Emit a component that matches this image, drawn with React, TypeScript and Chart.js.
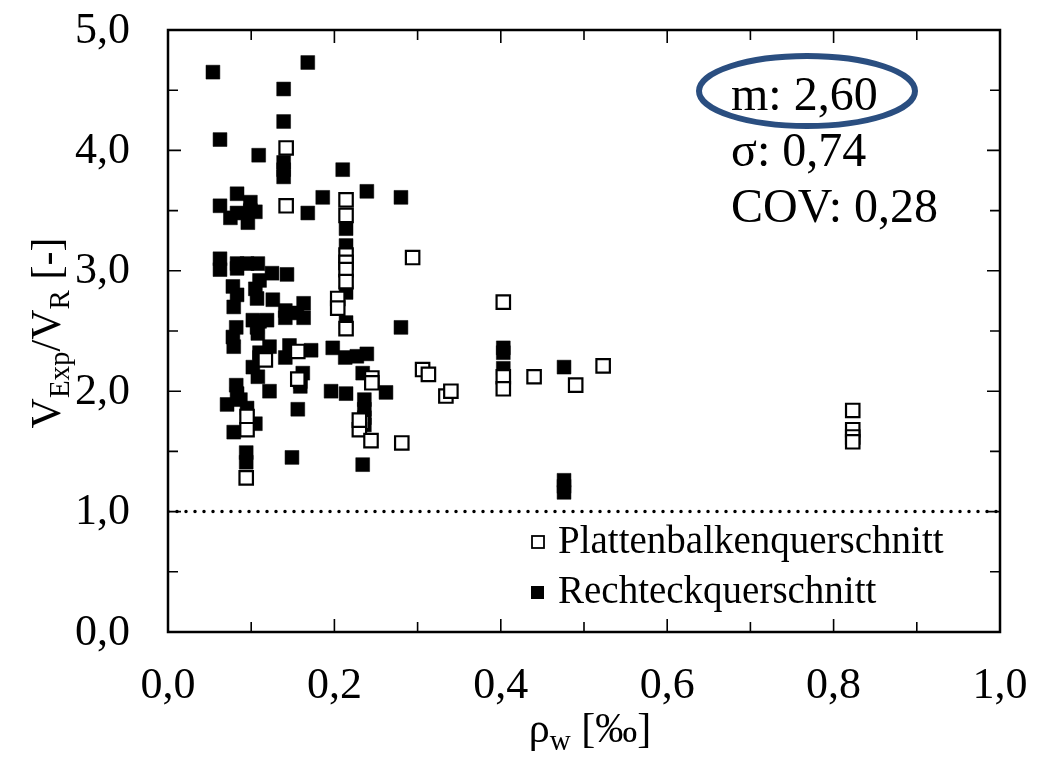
import React, { useEffect, useRef } from "react";
import { Chart, registerables } from "chart.js";

Chart.register(...registerables);

// ---- data ----
const plattenX = [
  0.142, 0.142, 0.214, 0.214, 0.214, 0.214, 0.214, 0.214, 0.204, 0.204, 0.214, 0.294,
  0.156, 0.117, 0.245, 0.245, 0.156, 0.233, 0.23, 0.244, 0.281, 0.306, 0.313, 0.334,
  0.34, 0.403, 0.403, 0.403, 0.44, 0.49, 0.523, 0.823, 0.823, 0.823, 0.823, 0.095,
  0.095, 0.094, 0.23,
];
const plattenY = [
  4.02, 3.54, 3.59, 3.46, 3.13, 3.07, 3.01, 2.91, 2.77, 2.69, 2.52, 3.11,
  2.33, 2.26, 2.11, 2.07, 2.1, 1.74, 1.68, 1.59, 1.57, 2.18, 2.14, 1.96,
  2.0, 2.74, 2.12, 2.02, 2.12, 2.05, 2.21, 1.84, 1.68, 1.62, 1.58, 1.79,
  1.68, 1.28, 1.76,
];
const rechteckX = [
  0.054, 0.168, 0.139, 0.139, 0.0625, 0.109, 0.139, 0.139, 0.139, 0.21, 0.239, 0.186,
  0.28, 0.083, 0.0625, 0.099, 0.168, 0.083, 0.075, 0.099, 0.105, 0.096, 0.214, 0.214,
  0.214, 0.214, 0.28, 0.143, 0.0625, 0.0625, 0.083, 0.095, 0.108, 0.083, 0.125, 0.11,
  0.078, 0.083, 0.105, 0.107, 0.126, 0.079, 0.163, 0.141, 0.163, 0.141, 0.155, 0.082,
  0.102, 0.11, 0.119, 0.107, 0.078, 0.108, 0.079, 0.11, 0.122, 0.146, 0.141, 0.172,
  0.198, 0.11, 0.102, 0.108, 0.162, 0.213, 0.227, 0.239, 0.234, 0.082, 0.083, 0.122,
  0.159, 0.159, 0.196, 0.214, 0.262, 0.071, 0.087, 0.095, 0.156, 0.105, 0.079, 0.236,
  0.236, 0.236, 0.236, 0.234, 0.094, 0.094, 0.149, 0.403, 0.403, 0.403, 0.476, 0.476,
  0.476, 0.476,
];
const rechteckY = [
  4.65, 4.73, 4.51, 4.24, 4.09, 3.96, 3.9, 3.84, 3.78, 3.84, 3.66, 3.61,
  3.61, 3.64, 3.54, 3.57, 3.48, 3.48, 3.44, 3.5, 3.49, 3.4, 3.35, 3.21,
  2.82, 2.57, 2.53, 2.97, 3.1, 3.01, 3.06, 3.06, 3.06, 3.02, 2.98, 2.92,
  2.87, 2.8, 2.85, 2.77, 2.76, 2.7, 2.73, 2.67, 2.61, 2.61, 2.65, 2.53,
  2.59, 2.58, 2.59, 2.53, 2.45, 2.48, 2.37, 2.32, 2.37, 2.38, 2.28, 2.34,
  2.36, 2.28, 2.2, 2.12, 2.15, 2.28, 2.29, 2.31, 2.15, 2.05, 1.98, 2.0,
  2.04, 2.08, 2.0, 1.98, 1.99, 1.89, 1.93, 1.86, 1.85, 1.73, 1.66, 1.93,
  1.85, 1.78, 1.72, 1.39, 1.49, 1.41, 1.45, 2.36, 2.32, 2.19, 2.2, 1.26,
  1.21, 1.16,
];
const limitX = [0, 1];
const limitY = [1, 1];
const statsLines = ["m: 2,60", "σ: 0,74", "COV: 0,28"];
const legendLabels = ["Plattenbalkenquerschnitt", "Rechteckquerschnitt"];

const FONT = "'Liberation Serif', 'Times New Roman', 'DejaVu Serif', serif";

const fmt = (v: number) => Number(v).toFixed(1).replace(".", ",");

function drawParts(ctx: CanvasRenderingContext2D, parts: { t: string; s: number; dy: number }[], cx: number, by: number) {
  let total = 0;
  for (const p of parts) {
    ctx.font = `${p.s}px ${FONT}`;
    total += ctx.measureText(p.t).width;
  }
  let x = cx - total / 2;
  ctx.textAlign = "left";
  ctx.textBaseline = "alphabetic";
  for (const p of parts) {
    ctx.font = `${p.s}px ${FONT}`;
    ctx.fillText(p.t, x, by + p.dy);
    x += ctx.measureText(p.t).width;
  }
}

const decor = {
  id: "decor",
  afterDraw(chart: any) {
    const ctx: CanvasRenderingContext2D = chart.ctx;
    const { left, right, top, bottom } = chart.chartArea;
    const xs = chart.scales.x;
    const ys = chart.scales.y;
    ctx.save();
    ctx.strokeStyle = "#000";
    ctx.fillStyle = "#000";
    // frame
    ctx.lineWidth = 2.5;
    ctx.strokeRect(left, top, right - left, bottom - top);
    // inward ticks
    ctx.lineWidth = 1.6;
    ctx.beginPath();
    for (let i = 1; i < 10; i++) {
      const px = xs.getPixelForValue(i / 10);
      const len = i % 2 === 0 ? 13 : 10;
      ctx.moveTo(px, bottom);
      ctx.lineTo(px, bottom - len);
      ctx.moveTo(px, top);
      ctx.lineTo(px, top + len);
    }
    for (let i = 1; i < 10; i++) {
      const py = ys.getPixelForValue(i / 2);
      const len = i % 2 === 0 ? 13 : 10;
      ctx.moveTo(left, py);
      ctx.lineTo(left + len, py);
      ctx.moveTo(right, py);
      ctx.lineTo(right - len, py);
    }
    ctx.stroke();

    // tick labels from the library's scales
    ctx.font = `44px ${FONT}`;
    ctx.textAlign = "center";
    ctx.textBaseline = "alphabetic";
    xs.ticks.forEach((t: any) => {
      ctx.fillText(fmt(t.value), xs.getPixelForValue(t.value), 698);
    });
    ctx.textAlign = "right";
    ctx.textBaseline = "middle";
    ys.ticks.forEach((t: any) => {
      ctx.fillText(fmt(t.value), 130, ys.getPixelForValue(t.value) + 1);
    });

    // stats text
    ctx.font = `48px ${FONT}`;
    ctx.textAlign = "left";
    ctx.textBaseline = "alphabetic";
    statsLines.forEach((s, i) => ctx.fillText(s, 731, 110 + i * 56));
    // ellipse
    ctx.strokeStyle = "#2a4e80";
    ctx.lineWidth = 6;
    ctx.beginPath();
    ctx.ellipse(807, 91, 108, 35, 0, 0, Math.PI * 2);
    ctx.stroke();

    // legend
    ctx.strokeStyle = "#000";
    ctx.lineWidth = 1.8;
    ctx.fillStyle = "#fff";
    ctx.fillRect(532, 536, 12, 12);
    ctx.strokeRect(532, 536, 12, 12);
    ctx.fillStyle = "#000";
    ctx.fillRect(531, 586, 13, 13);
    ctx.font = `39px ${FONT}`;
    ctx.fillText(legendLabels[0], 558, 553);
    ctx.fillText(legendLabels[1], 558, 603);

    // x title
    drawParts(ctx, [
      { t: "ρ", s: 42, dy: 0 },
      { t: "w", s: 29, dy: 8 },
      { t: " [‰]", s: 42, dy: 0 },
    ], 590, 742);

    // y title
    ctx.translate(60, 333);
    ctx.rotate(-Math.PI / 2);
    drawParts(ctx, [
      { t: "V", s: 42, dy: 0 },
      { t: "Exp", s: 29, dy: 9 },
      { t: "/V", s: 42, dy: 0 },
      { t: "R", s: 29, dy: 9 },
      { t: " [-]", s: 42, dy: 0 },
    ], 0, 0);
    ctx.restore();
  },
};

export default function App() {
  const ref = useRef<HTMLCanvasElement | null>(null);
  useEffect(() => {
    document.body.style.margin = "0";
    const canvas = ref.current!;
    const chart = new Chart(canvas, {
      type: "scatter",
      data: {
        datasets: [
          {
            label: legendLabels[0],
            data: plattenX.map((x, i) => ({ x, y: plattenY[i] })),
            pointStyle: "rect",
            pointRadius: 9.5,
            backgroundColor: "#fff",
            borderColor: "#000",
            borderWidth: 2.2,
          },
          {
            label: legendLabels[1],
            data: rechteckX.map((x, i) => ({ x, y: rechteckY[i] })),
            pointStyle: "rect",
            pointRadius: 9.8,
            backgroundColor: "#000",
            borderColor: "#000",
            borderWidth: 0.5,
          },
          {
            type: "line",
            label: "limit",
            data: limitX.map((x, i) => ({ x, y: limitY[i] })),
            borderColor: "#000",
            borderWidth: 3.5,
            borderDash: [0, 9],
            borderCapStyle: "round",
            pointRadius: 0,
            fill: false,
          } as any,
        ],
      },
      options: {
        responsive: false,
        animation: false,
        events: [],
        layout: { padding: { top: 30, right: 47, left: 0, bottom: 0 } },
        plugins: { legend: { display: false }, tooltip: { enabled: false } },
        scales: {
          x: {
            type: "linear",
            min: 0,
            max: 1,
            grid: { display: false, drawTicks: false },
            border: { display: false },
            ticks: { display: false, stepSize: 0.2 },
            afterFit: (s: any) => {
              s.height = 125;
            },
          },
          y: {
            type: "linear",
            min: 0,
            max: 5,
            grid: { display: false, drawTicks: false },
            border: { display: false },
            ticks: { display: false, stepSize: 1 },
            afterFit: (s: any) => {
              s.width = 168;
            },
          },
        },
      },
      plugins: [decor],
    });
    return () => chart.destroy();
  }, []);
  return <canvas ref={ref} width={1047} height={757} style={{ display: "block" }} />;
}
